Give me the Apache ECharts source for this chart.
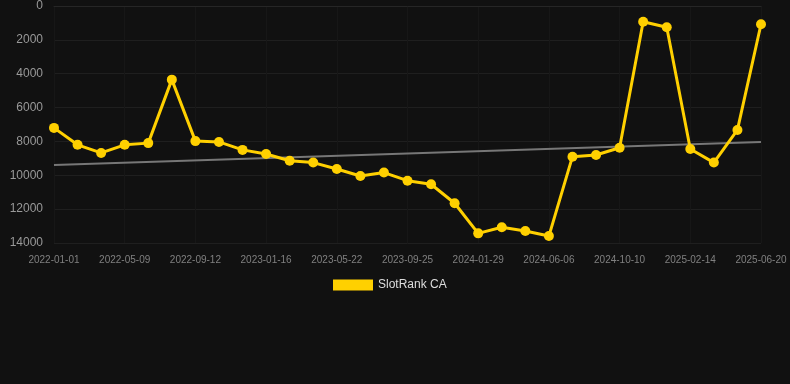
<!DOCTYPE html>
<html><head><meta charset="utf-8">
<script src="https://cdn.jsdelivr.net/npm/echarts@6/dist/echarts.min.js"></script>
<style>html,body{margin:0;padding:0;background:#111111;}#c{width:790px;height:384px;}</style>
</head><body><div id="c"></div>
<script>
var categories = ["2022-01-01","2022-02-12","2022-03-26","2022-05-09","2022-06-20","2022-08-01","2022-09-12","2022-10-24","2022-12-05","2023-01-16","2023-02-27","2023-04-10","2023-05-22","2023-07-03","2023-08-14","2023-09-25","2023-11-06","2023-12-18","2024-01-29","2024-03-11","2024-04-22","2024-06-06","2024-07-17","2024-08-28","2024-10-10","2024-11-21","2025-01-02","2025-02-14","2025-03-28","2025-05-09","2025-06-20"];
var rankValues = [7200,8200,8680,8200,8100,4350,7980,8030,8500,8740,9140,9250,9630,10040,9840,10320,10530,11650,13430,13070,13290,13590,8900,8800,8370,930,1260,8450,9250,7320,1080];
var trendStart = 9390;
var trendEnd = 8030;
var yTicks = [0,2000,4000,6000,8000,10000,12000,14000];

var chart = echarts.init(document.getElementById('c'));
chart.setOption({
  backgroundColor: '#111111',
  animation: false,
  grid: {left: 54, right: 29, top: 6, bottom: 141},
  legend: {
    data: ['SlotRank CA'],
    top: 274, left: 328,
    itemWidth: 40, itemHeight: 11,
    icon: 'rect',
    textStyle: {color: '#dddddd', fontSize: 12, fontFamily: 'Arial, Liberation Sans, sans-serif'}
  },
  xAxis: {
    type: 'category',
    data: categories,
    boundaryGap: false,
    axisLine: {show: true, lineStyle: {color: '#262626'}},
    axisTick: {show: false},
    axisLabel: {interval: 2, color: '#808080', fontSize: 10, margin: 12, fontFamily: 'Arial, Liberation Sans, sans-serif'},
    splitLine: {show: true, interval: 2, lineStyle: {color: '#171717'}}
  },
  yAxis: {
    type: 'value',
    inverse: true,
    min: yTicks[0], max: yTicks[yTicks.length-1], interval: 2000,
    axisLine: {show: false},
    axisTick: {show: false},
    axisLabel: {color: '#999999', fontSize: 12, margin: 11, fontFamily: 'Arial, Liberation Sans, sans-serif', formatter: function(v){return String(v);}},
    splitLine: {lineStyle: {color: '#1f1f1f'}}
  },
  series: [
    {
      name: 'Trend',
      type: 'line',
      data: [[categories[0], trendStart], [categories[categories.length-1], trendEnd]],
      symbol: 'none',
      lineStyle: {color: '#777777', width: 2},
      z: 1, silent: true
    },
    {
      name: 'SlotRank CA',
      type: 'line',
      data: rankValues,
      symbol: 'circle',
      symbolSize: 10,
      itemStyle: {color: '#FFD000'},
      lineStyle: {color: '#FFD000', width: 3},
      z: 3
    }
  ]
});
</script></body></html>
